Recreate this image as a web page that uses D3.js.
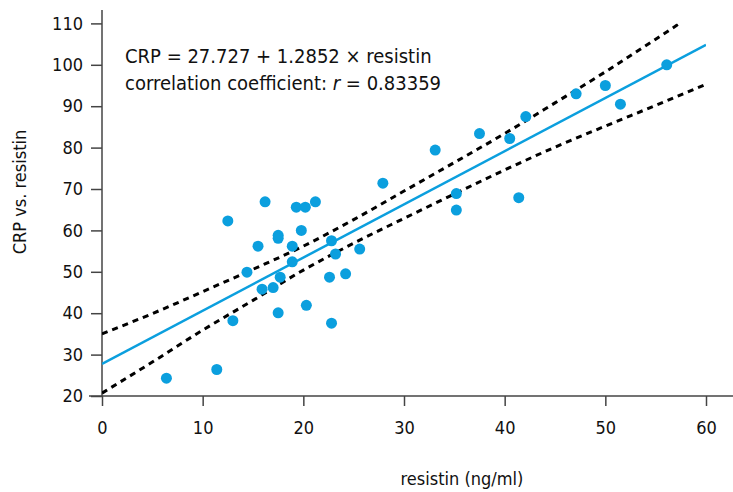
<!DOCTYPE html>
<html>
<head>
<meta charset="utf-8">
<script src="https://cdn.jsdelivr.net/npm/d3@7"></script>
<style>
  body { margin: 0; background: #fff; }
  svg { display: block; }
  text { font-family: "Liberation Sans Narrow", "DejaVu Sans Condensed", "Roboto", sans-serif; fill: #111; }
</style>
</head>
<body>
<div id="chart"></div>
<script>
// resistin (ng/ml) vs CRP
var resistin = [6.4, 11.4, 13.0, 12.5, 14.4, 15.5, 16.2, 15.9, 17.0, 17.5,
  17.7, 17.5, 17.5, 18.9, 18.9, 19.3, 20.2, 19.8, 21.2, 20.3,
  22.8, 22.6, 23.2, 22.8, 24.2, 25.6, 27.9, 33.1, 35.2, 35.2,
  37.5, 40.5, 42.1, 41.4, 47.1, 50.0, 51.5, 56.1];
var crp = [24.3, 26.4, 38.2, 62.3, 49.9, 56.2, 66.9, 45.8, 46.2, 40.1,
  48.7, 58.8, 58.1, 56.2, 52.4, 65.6, 65.6, 60.0, 66.9, 41.9,
  57.5, 48.7, 54.3, 37.6, 49.5, 55.5, 71.4, 79.4, 68.9, 64.9,
  83.4, 82.2, 87.5, 67.9, 93.0, 95.0, 90.5, 100.0];

// fitted line end points
var fitX = [0, 60];
var fitY = [27.73, 104.84];

// dashed confidence band, read at these resistin values
var bandX = [0, 5, 10, 15, 20, 25, 30, 35, 40, 45, 50, 55, 60];
var bandUpper = [35.0, 39.9, 45.2, 50.6, 56.2, 62.6, 69.5, 76.4, 83.4, 90.8, 98.3, 106.2, 114.2];
var bandLower = [20.7, 28.2, 35.9, 43.1, 50.4, 56.9, 62.9, 68.8, 74.6, 80.1, 85.2, 90.2, 95.3];

var xTicks = [0, 10, 20, 30, 40, 50, 60];
var yTicks = [20, 30, 40, 50, 60, 70, 80, 90, 100, 110];

var W = 733, H = 492;
var blue = "#0b9fde";

var svg = d3.select("#chart").append("svg")
  .attr("width", W)
  .attr("height", H);

var x = d3.scaleLinear().domain([0, 60]).range([102, 706]);
var y = d3.scaleLinear().domain([20, 110]).range([396, 23.4]);

//clip so the upper band stops at the top of the plot
svg.append("clipPath").attr("id", "plotClip")
  .append("rect")
  .attr("x", x(0)).attr("y", y(110))
  .attr("width", x(60) - x(0)).attr("height", y(20) - y(110));

// axes
var xAxis = svg.append("g")
  .attr("transform", "translate(0," + y(20) + ")")
  .call(d3.axisBottom(x).tickValues(xTicks).tickSize(10).tickPadding(15).tickSizeOuter(0));

var yAxis = svg.append("g")
  .attr("transform", "translate(" + x(0) + ",0)")
  .call(d3.axisLeft(y).tickValues(yTicks).tickSize(11).tickPadding(8).tickSizeOuter(0));

[xAxis, yAxis].forEach(function(g) {
  g.selectAll("line").attr("stroke", "#444").attr("stroke-width", 1.5);
  g.select(".domain").remove();
  g.selectAll("text").style("font-size", "18px").attr("fill", "#111");
});

// long axis lines like in the original
svg.append("line")
  .attr("x1", 89).attr("x2", W).attr("y1", y(20)).attr("y2", y(20))
  .attr("stroke", "#444").attr("stroke-width", 1.5);
svg.append("line")
  .attr("x1", x(0)).attr("x2", x(0)).attr("y1", 10).attr("y2", y(20))
  .attr("stroke", "#444").attr("stroke-width", 1.5);

var plot = svg.append("g").attr("clip-path", "url(#plotClip)");

var bandLine = d3.line().curve(d3.curveMonotoneX)
  .x(function(d) { return x(d[0]); })
  .y(function(d) { return y(d[1]); });

[bandUpper, bandLower].forEach(function(vals) {
  plot.append("path")
    .datum(bandX.map(function(v, i) { return [v, vals[i]]; }))
    .attr("d", bandLine)
    .attr("fill", "none")
    .attr("stroke", "#000")
    .attr("stroke-width", 3)
    .attr("stroke-dasharray", "6,5");
});

plot.append("path")
  .datum(fitX.map(function(v, i) { return [v, fitY[i]]; }))
  .attr("d", bandLine)
  .attr("fill", "none")
  .attr("stroke", blue)
  .attr("stroke-width", 2.5);

svg.append("g").selectAll("circle")
  .data(resistin.map(function(v, i) { return [v, crp[i]]; }))
  .enter().append("circle")
  .attr("cx", function(d) { return x(d[0]); })
  .attr("cy", function(d) { return y(d[1]); })
  .attr("r", 5.5)
  .attr("fill", blue);

// equation
var eq = svg.append("g").style("font-size", "20px");
eq.append("text").attr("x", 125).attr("y", 63)
  .text("CRP = 27.727 + 1.2852 × resistin");
var t2 = eq.append("text").attr("x", 125).attr("y", 90);
t2.append("tspan").text("correlation coefficient: ");
t2.append("tspan").style("font-style", "italic").text("r");
t2.append("tspan").text(" = 0.83359");

// axis labels
svg.append("text")
  .attr("x", 462).attr("y", 485)
  .attr("text-anchor", "middle")
  .style("font-size", "18px")
  .text("resistin (ng/ml)");

svg.append("text")
  .attr("transform", "translate(26,192) rotate(-90)")
  .attr("text-anchor", "middle")
  .style("font-size", "18px")
  .text("CRP vs. resistin");
</script>
</body>
</html>
